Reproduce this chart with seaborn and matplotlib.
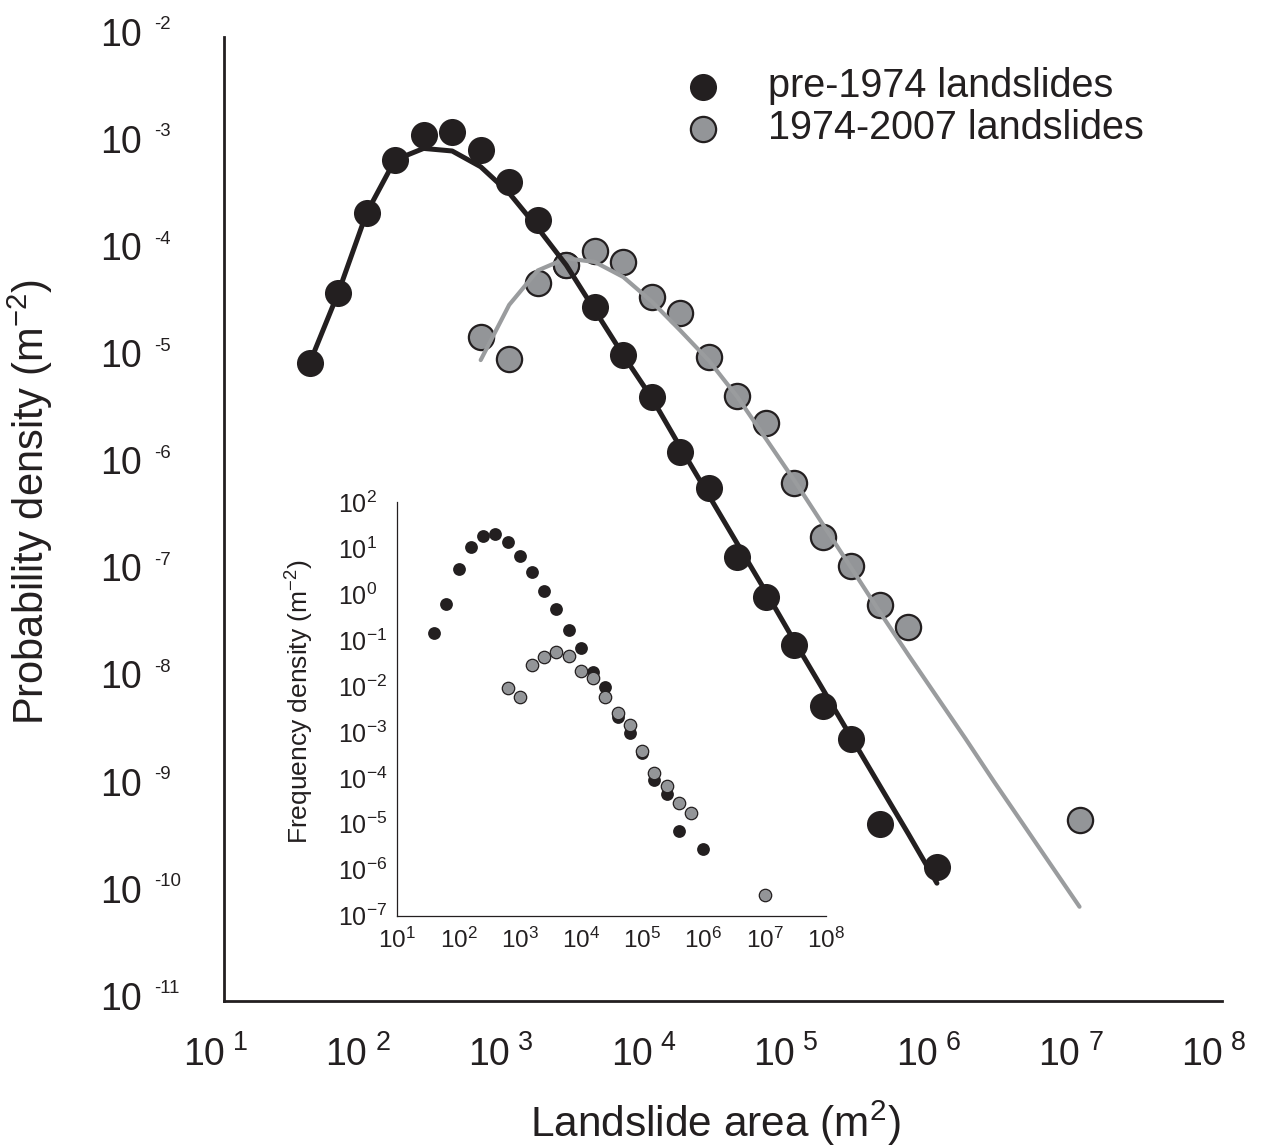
import numpy as np
import pandas as pd
import matplotlib
matplotlib.use("Agg")
import matplotlib.pyplot as plt
import seaborn as sns
from matplotlib.ticker import NullLocator

# ---------------- data ----------------
area_pre = [39.8, 63.1, 100, 158, 251, 398, 631, 1000, 1585, 2512, 3981, 6310,
            1.0e4, 1.585e4, 2.512e4, 3.981e4, 6.310e4, 1.0e5, 1.585e5, 2.512e5,
            3.981e5, 1.0e6]
dens_pre = [9.0e-6, 4.05e-5, 2.26e-4, 7.1e-4, 1.22e-3, 1.30e-3, 8.9e-4, 4.45e-4,
            1.95e-4, 7.4e-5, 3.0e-5, 1.07e-5, 4.35e-6, 1.34e-6, 6.2e-7, 1.39e-7,
            5.9e-8, 2.13e-8, 5.7e-9, 2.8e-9, 4.5e-10, 1.77e-10]

area_post = [631, 1000, 1585, 2512, 3981, 6310, 1.0e4, 1.585e4, 2.512e4, 3.981e4,
             6.310e4, 1.0e5, 1.585e5, 2.512e5, 3.981e5, 6.310e5, 1.0e7]
dens_post = [1.57e-5, 9.8e-6, 5.0e-5, 7.4e-5, 1.01e-4, 8.0e-5, 3.76e-5, 2.67e-5,
             1.02e-5, 4.48e-6, 2.47e-6, 6.8e-7, 2.16e-7, 1.16e-7, 4.94e-8, 3.08e-8,
             4.9e-10]

fit_area_pre = [39.8, 63.1, 100, 158, 251, 398, 631, 1000, 1585, 2512, 3981, 6310,
                1.0e4, 1.585e4, 2.512e4, 3.981e4, 6.310e4, 1.0e5, 1.585e5, 2.512e5,
                3.981e5, 6.310e5, 1.0e6]
fit_pre = [9.0e-6, 4.07e-5, 2.28e-4, 7.11e-4, 9.12e-4, 8.63e-4, 6.15e-4, 3.49e-4,
           1.65e-4, 7.43e-5, 2.82e-5, 1.07e-5, 4.27e-6, 1.48e-6, 5.25e-7, 1.86e-7,
           6.61e-8, 2.29e-8, 8.13e-9, 2.88e-9, 1.02e-9, 3.63e-10, 1.26e-10]

fit_area_post = [631, 1000, 1585, 2512, 3981, 6310, 1.0e4, 1.585e4, 2.512e4,
                 3.981e4, 6.310e4, 1.0e5, 1.585e5, 2.512e5, 3.981e5, 6.310e5,
                 1.0e6, 1.585e6, 2.512e6, 3.981e6, 6.310e6, 1.0e7]
fit_post = [9.64e-6, 3.16e-5, 6.61e-5, 8.59e-5, 7.94e-5, 5.75e-5, 3.39e-5, 1.82e-5,
            9.55e-6, 4.37e-6, 1.78e-6, 7.24e-7, 2.82e-7, 1.10e-7, 4.27e-8, 1.70e-8,
            6.92e-9, 2.82e-9, 1.12e-9, 4.57e-10, 1.86e-10, 7.59e-11]

freq_pre = [0.140, 0.610, 3.47, 10.8, 18.8, 20.7, 13.9, 6.78, 2.99, 1.17, 0.467,
            0.166, 0.0659, 0.0205, 0.00964, 0.00214, 9.27e-4, 3.40e-4, 8.93e-5,
            4.43e-5, 7.03e-6, 2.80e-6]
freq_post = [8.87e-3, 5.65e-3, 2.86e-2, 4.20e-2, 5.58e-2, 4.56e-2, 2.11e-2, 1.51e-2,
             5.83e-3, 2.53e-3, 1.41e-3, 3.82e-4, 1.25e-4, 6.71e-5, 2.77e-5, 1.76e-5,
             2.79e-7]

series_labels = ["pre-1974 landslides", "1974-2007 landslides"]
x_ticks = [1e1, 1e2, 1e3, 1e4, 1e5, 1e6, 1e7, 1e8]
x_exp = ["1", "2", "3", "4", "5", "6", "7", "8"]
main_y_ticks = [1e-2, 1e-3, 1e-4, 1e-5, 1e-6, 1e-7, 1e-8, 1e-9, 1e-10, 1e-11]
main_y_exp = ["-2", "-3", "-4", "-5", "-6", "-7", "-8", "-9", "-10", "-11"]
inset_y_ticks = [1e2, 1e1, 1e0, 1e-1, 1e-2, 1e-3, 1e-4, 1e-5, 1e-6, 1e-7]
inset_y_exp = ["2", "1", "0", "-1", "-2", "-3", "-4", "-5", "-6", "-7"]

# ---------------- style ----------------
BLACK = "#231f20"
GREY = "#939598"
GREY_LINE = "#9a9c9e"

sns.set_theme(style="white")
plt.rcParams["font.family"] = ["Liberation Sans", "DejaVu Sans"]
plt.rcParams["mathtext.fontset"] = "custom"
plt.rcParams["mathtext.rm"] = "Liberation Sans"
plt.rcParams["mathtext.it"] = "Liberation Sans:italic"
plt.rcParams["mathtext.bf"] = "Liberation Sans:bold"
plt.rcParams["mathtext.sf"] = "Liberation Sans"
plt.rcParams["text.color"] = BLACK
plt.rcParams["axes.labelcolor"] = BLACK
plt.rcParams["xtick.color"] = BLACK
plt.rcParams["ytick.color"] = BLACK

fig = plt.figure(figsize=(12.63, 11.46), dpi=100)
ax = fig.add_axes([0.1774, 0.1265, 0.7902, 0.8412])
ax.set_xscale("log")
ax.set_yscale("log")

df_pre = pd.DataFrame({"area": area_pre, "density": dens_pre})
df_post = pd.DataFrame({"area": area_post, "density": dens_post})
df_fit_pre = pd.DataFrame({"area": fit_area_pre, "density": fit_pre})
df_fit_post = pd.DataFrame({"area": fit_area_post, "density": fit_post})

sns.scatterplot(data=df_pre, x="area", y="density", ax=ax, s=380, color=BLACK,
                edgecolor=BLACK, linewidth=0, label=series_labels[0], zorder=2)
sns.scatterplot(data=df_post, x="area", y="density", ax=ax, s=330, color=GREY,
                edgecolor=BLACK, linewidth=1.6, label=series_labels[1], zorder=3)
sns.lineplot(data=df_fit_post, x="area", y="density", ax=ax, color=GREY_LINE,
             lw=3.0, sort=False, estimator=None, legend=False, zorder=4)
sns.lineplot(data=df_fit_pre, x="area", y="density", ax=ax, color=BLACK,
             lw=3.6, sort=False, estimator=None, legend=False, zorder=5)

ax.set_xlim(1e1, 1e8)
ax.set_ylim(1e-11, 1e-2)
ax.set_xticks(x_ticks)
ax.set_yticks(main_y_ticks)
ax.xaxis.set_minor_locator(NullLocator())
ax.yaxis.set_minor_locator(NullLocator())
ax.tick_params(axis="both", which="major", direction="out", length=10, width=1.6,
               color=BLACK, labelleft=False, labelbottom=False)
for s in ["top", "right"]:
    ax.spines[s].set_visible(False)
for s in ["left", "bottom"]:
    ax.spines[s].set_linewidth(2.0)
    ax.spines[s].set_color(BLACK)
ax.grid(False)

# tick labels "10" with a separate, smaller exponent (as in the reference)
ytrans = ax.get_yaxis_transform()
for v, e in zip(main_y_ticks, main_y_exp):
    ax.annotate("10", xy=(0, v), xycoords=ytrans, xytext=(-59.3, -6.3),
                textcoords="offset points", ha="right", va="baseline",
                fontsize=27, annotation_clip=False)
    ax.annotate(e, xy=(0, v), xycoords=ytrans, xytext=(-50.2, 5.5),
                textcoords="offset points", ha="left", va="baseline",
                fontsize=13.4, annotation_clip=False)
xtrans = ax.get_xaxis_transform()
for v, e in zip(x_ticks, x_exp):
    ax.annotate("10", xy=(v, 0), xycoords=xtrans, xytext=(0.5, -46),
                textcoords="offset points", ha="right", va="baseline",
                fontsize=27, annotation_clip=False)
    ax.annotate(e, xy=(v, 0), xycoords=xtrans, xytext=(6.5, -35.3),
                textcoords="offset points", ha="left", va="baseline",
                fontsize=19.4, annotation_clip=False)

ax.set_xlabel("Landslide area (m$^{2}$)", fontsize=30.5)
ax.set_ylabel("Probability density (m$^{-2}$)", fontsize=30)
ax.xaxis.set_label_coords(0.492, -0.101)
ax.yaxis.set_label_coords(-0.169, 0.5176)

handles, labels = ax.get_legend_handles_labels()
ax.legend(handles, labels, loc="upper left", bbox_to_anchor=(0.5253, 0.9412),
          bbox_transform=fig.transFigure, frameon=False, fontsize=28.5,
          borderpad=0, borderaxespad=0, handlelength=2.0, handletextpad=0.65,
          labelspacing=0.1)

# ---------------- inset ----------------
ins = fig.add_axes([0.3146, 0.2010, 0.3392, 0.3607])
ins.set_xscale("log")
ins.set_yscale("log")
df_ipre = pd.DataFrame({"area": area_pre, "freq": freq_pre})
df_ipost = pd.DataFrame({"area": area_post, "freq": freq_post})
sns.scatterplot(data=df_ipre, x="area", y="freq", ax=ins, s=85, color=BLACK,
                edgecolor=BLACK, linewidth=0, legend=False, zorder=2)
sns.scatterplot(data=df_ipost, x="area", y="freq", ax=ins, s=80, color=GREY,
                edgecolor=BLACK, linewidth=0.9, legend=False, zorder=3)
ins.set_xlim(1e1, 1e8)
ins.set_ylim(1e-7, 1e2)
ins.set_xticks(x_ticks)
ins.set_xticklabels([f"10$^{{{e}}}$" for e in x_exp])
ins.set_yticks(inset_y_ticks)
ins.set_yticklabels([f"10$^{{{e}}}$" for e in inset_y_exp], ha="left")
ins.xaxis.set_minor_locator(NullLocator())
ins.yaxis.set_minor_locator(NullLocator())
ins.tick_params(axis="both", which="major", direction="out", length=4, width=0.9,
                color=BLACK)
ins.tick_params(axis="x", labelsize=17.5, pad=5)
ins.tick_params(axis="y", labelsize=18, pad=39)
ins.patch.set_alpha(0)
for s in ["top", "right"]:
    ins.spines[s].set_visible(False)
for s in ["left", "bottom"]:
    ins.spines[s].set_linewidth(0.9)
    ins.spines[s].set_color(BLACK)
ins.grid(False)
ins.set_xlabel("")
ins.set_ylabel("Frequency density (m$^{-2}$)", fontsize=19)
ins.yaxis.set_label_coords(-0.19, 0.517)

fig.savefig("out.png", dpi=100)
